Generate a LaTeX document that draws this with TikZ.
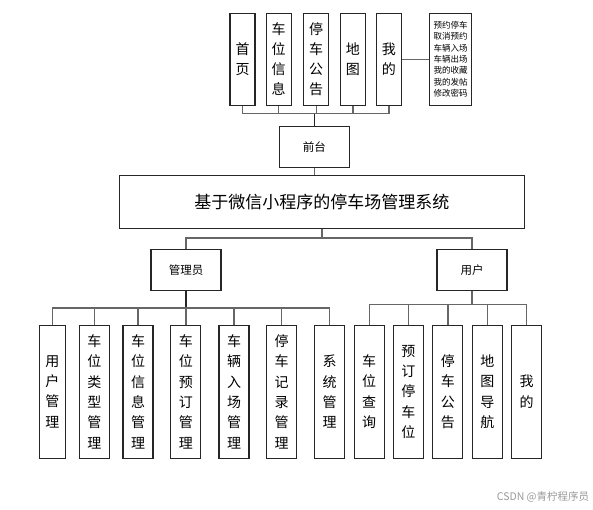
\documentclass[tikz,border=0pt]{standalone}
\usepackage{fontspec}
\setmainfont{Noto Sans CJK SC}
\begin{document}
\begin{tikzpicture}[
        x={(1pt,0pt)}, y={(0pt,-1pt)},
        every node/.style = {rectangle, draw=black!85, line width=1.1pt, inner sep=0pt, align=center},
        menubox/.style = {minimum width=25pt, minimum height=92pt, font=\fontsize{14}{20}\selectfont},
        notebox/.style = {minimum width=42pt, minimum height=92pt, font=\fontsize{8.5}{11.3}\selectfont},
        rolebox/.style = {minimum width=70pt, minimum height=41pt, font=\fontsize{11.5}{14}\selectfont},
        funcbox/.style = {minimum width=30pt, minimum height=133pt, font=\fontsize{14}{20.3}\selectfont},
        link/.style = {draw=black!60, line width=1.4pt},
      ]
      \useasboundingbox (0,0) rectangle (593,509);

      \node[menubox] (t1) at (242.5,59.2) {首\\页};
      \node[menubox] (t2) at (278.7,59.2) {车\\位\\信\\息};
      \node[menubox] (t3) at (316.2,59.2) {停\\车\\公\\告};
      \node[menubox] (t4) at (352.8,59.2) {地\\图};
      \node[menubox] (t5) at (388.8,59.2) {我\\的};
      \node[notebox] (mine) at (450.5,59.2) {预约停车\\取消预约\\车辆入场\\车辆出场\\我的收藏\\我的发帖\\修改密码};

      \node[rolebox] (qt) at (314.3,147) {前台};
      \node[minimum width=405pt, minimum height=53pt, font=\fontsize{17}{20}\selectfont] (sys) at (321.8,201.7) {基于微信小程序的停车场管理系统};
      \node[rolebox] (gly) at (186,269.7) {管理员};
      \node[rolebox] (yh) at (472,269.7) {用户};

      \node[funcbox, minimum width=26pt] (a1) at (52.3,391.7) {用\\户\\管\\理};
      \node[funcbox] (a2) at (94.3,391.7) {车\\位\\类\\型\\管\\理};
      \node[funcbox] (a3) at (138,391.7) {车\\位\\信\\息\\管\\理};
      \node[funcbox] (a4) at (185.8,391.7) {车\\位\\预\\订\\管\\理};
      \node[funcbox] (a5) at (234,391.7) {车\\辆\\入\\场\\管\\理};
      \node[funcbox] (a6) at (281.7,391.7) {停\\车\\记\\录\\管\\理};
      \node[funcbox] (a7) at (329.7,391.7) {系\\统\\管\\理};

      \node[funcbox] (u1) at (369.2,391.7) {车\\位\\查\\询};
      \node[funcbox] (u2) at (408.3,391.7) {预\\订\\停\\车\\位};
      \node[funcbox] (u3) at (447.8,391.7) {停\\车\\公\\告};
      \node[funcbox] (u4) at (487.3,391.7) {地\\图\\导\\航};
      \node[funcbox] (u5) at (526.7,391.7) {我\\的};

      \node[draw=none, text=black!40, font=\fontsize{10.5}{12}\selectfont] (wm) at (543,497) {CSDN @青柠程序员};

      \coordinate (tbar) at (314.3,113.3);
      \coordinate (rbar) at (321.8,238);
      \coordinate (abar) at (186,308);
      \coordinate (ubar) at (472,304.7);

      \draw[link, draw=black!85] (qt.north) -- (tbar);
      \draw[link] (tbar) -| (t1.south);
      \draw[link] (tbar) -| (t2.south);
      \draw[link] (tbar) -| (t3.south);
      \draw[link] (tbar) -| (t4.south);
      \draw[link] (tbar) -| (t5.south);
      \draw[link] (t5.east) -- (mine.west);

      \draw[link] (qt.south) -- (qt.south |- sys.north);
      \draw[link] (sys.south) -- (rbar);
      \draw[link] (rbar) -| (gly.north);
      \draw[link] (rbar) -| (yh.north);

      \draw[link, draw=black!85] (gly.south) -- (abar);
      \draw[link] (abar) -| (a1.north);
      \draw[link] (abar) -| (a2.north);
      \draw[link] (abar) -| (a3.north);
      \draw[link] (abar) -| (a4.north);
      \draw[link] (abar) -| (a5.north);
      \draw[link] (abar) -| (a6.north);
      \draw[link] (abar) -| (a7.north);

      \draw[link] (yh.south) -- (ubar);
      \draw[link] (ubar) -| (u1.north);
      \draw[link] (ubar) -| (u2.north);
      \draw[link] (ubar) -| (u3.north);
      \draw[link] (ubar) -| (u4.north);
      \draw[link] (ubar) -| (u5.north);

    \end{tikzpicture}
\end{document}
